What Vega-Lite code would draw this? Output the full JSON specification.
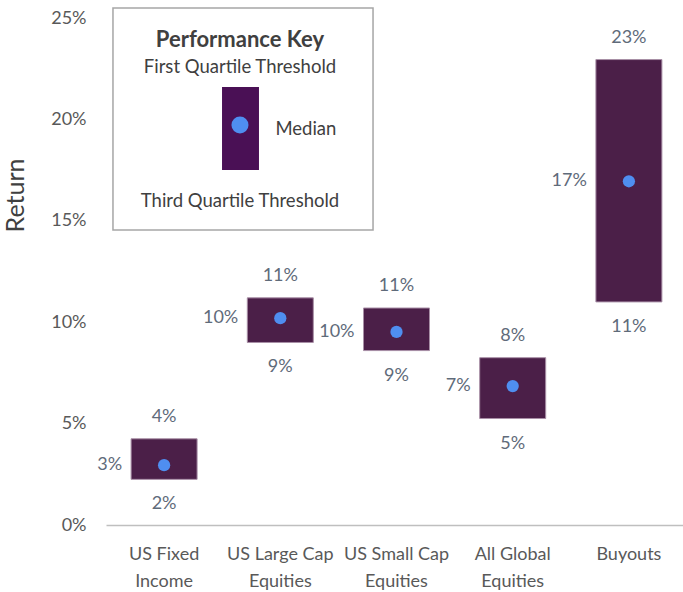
{
  "$schema": "https://vega.github.io/schema/vega-lite/v6.json",
  "autosize": "none",
  "width": 581,
  "height": 507,
  "padding": {"left": 106, "top": 18, "right": 0, "bottom": 67},
  "background": "white",
  "config": {
    "view": {"stroke": null},
    "font": "Lato",
    "text": {"font": "Lato"}
  },
  "datasets": {
    "ranges": [
      {"asset": "US Fixed Income", "first_quartile": 0.0425, "median": 0.0295, "third_quartile": 0.0225},
      {"asset": "US Large Cap Equities", "first_quartile": 0.112, "median": 0.102, "third_quartile": 0.090},
      {"asset": "US Small Cap Equities", "first_quartile": 0.107, "median": 0.0952, "third_quartile": 0.086},
      {"asset": "All Global Equities", "first_quartile": 0.0825, "median": 0.0685, "third_quartile": 0.0525},
      {"asset": "Buyouts", "first_quartile": 0.2295, "median": 0.1695, "third_quartile": 0.110}
    ],
    "key": [
      {"item": "Performance Key"}
    ]
  },
  "resolve": {"scale": {"x": "independent"}, "axis": {"x": "independent"}},
  "layer": [
    {
      "data": {"name": "key"},
      "layer": [
        {
          "mark": {"type": "rect", "fill": "white", "stroke": "#A6A6A6", "strokeWidth": 1.5},
          "encoding": {
            "x": {"datum": 1.2, "type": "quantitative", "scale": {"domain": [0, 100]}, "axis": null},
            "x2": {"datum": 45.96},
            "y": {"datum": 0.2549, "type": "quantitative", "scale": {"domain": [0, 0.25], "nice": false}},
            "y2": {"datum": 0.1455}
          }
        },
        {
          "mark": {"type": "text", "text": "Performance Key", "fontWeight": "bold", "fontSize": 22, "color": "#404040", "baseline": "middle"},
          "encoding": {
            "x": {"datum": 23.06, "type": "quantitative"},
            "y": {"datum": 0.239, "type": "quantitative"}
          }
        },
        {
          "mark": {"type": "text", "text": "First Quartile Threshold", "fontSize": 18.5, "color": "#404040", "baseline": "middle"},
          "encoding": {
            "x": {"datum": 23.06, "type": "quantitative"},
            "y": {"datum": 0.2258, "type": "quantitative"}
          }
        },
        {
          "mark": {"type": "rect", "fill": "#4A1055"},
          "encoding": {
            "x": {"datum": 19.97, "type": "quantitative"},
            "x2": {"datum": 26.33},
            "y": {"datum": 0.216, "type": "quantitative"},
            "y2": {"datum": 0.175}
          }
        },
        {
          "mark": {"type": "circle", "fill": "#4F8EF0", "opacity": 1, "size": 290},
          "encoding": {
            "x": {"datum": 23.06, "type": "quantitative"},
            "y": {"datum": 0.1972, "type": "quantitative"}
          }
        },
        {
          "mark": {"type": "text", "text": "Median", "fontSize": 18.5, "color": "#404040", "baseline": "middle"},
          "encoding": {
            "x": {"datum": 34.4, "type": "quantitative"},
            "y": {"datum": 0.1953, "type": "quantitative"}
          }
        },
        {
          "mark": {"type": "text", "text": "Third Quartile Threshold", "fontSize": 18.5, "color": "#404040", "baseline": "middle"},
          "encoding": {
            "x": {"datum": 23.06, "type": "quantitative"},
            "y": {"datum": 0.1598, "type": "quantitative"}
          }
        }
      ]
    },
    {
      "data": {"name": "ranges"},
      "encoding": {
        "x": {
          "field": "asset",
          "type": "nominal",
          "sort": null,
          "scale": {"paddingInner": 0, "paddingOuter": 0},
          "axis": {
            "orient": "bottom",
            "title": null,
            "labelAngle": 0,
            "labelFontSize": 18,
            "labelColor": "#595959",
            "labelFont": "Lato",
            "labelPadding": 20,
            "labelLineHeight": 27,
            "labelBaseline": "top",
            "ticks": false,
            "domainColor": "#BFBFBF",
            "domainWidth": 1.5,
            "labelExpr": "lastindexof(datum.label, ' ') > 0 ? [substring(datum.label, 0, lastindexof(datum.label, ' ')), substring(datum.label, lastindexof(datum.label, ' ') + 1)] : datum.label"
          }
        }
      },
      "layer": [
        {
          "mark": {"type": "bar", "width": 66, "fill": "#4B1F48", "stroke": "#A88FA6", "strokeWidth": 1},
          "encoding": {
            "y": {
              "field": "first_quartile",
              "type": "quantitative",
              "scale": {"domain": [0, 0.25], "nice": false},
              "axis": {
                "title": "Return",
                "titleFontSize": 25,
                "titleFontWeight": "normal",
                "titleColor": "#404040",
                "titleFont": "Lato",
                "titleX": -78,
                "titleY": 177,
                "titleAngle": -90,
                "titleAlign": "center",
                "titleBaseline": "bottom",
                "format": ".0%",
                "values": [0, 0.05, 0.1, 0.15, 0.2, 0.25],
                "labelFontSize": 18,
                "labelColor": "#595959",
                "labelFont": "Lato",
                "labelPadding": 20,
                "domain": false,
                "ticks": false,
                "grid": false
              }
            },
            "y2": {"field": "third_quartile"}
          }
        },
        {
          "mark": {"type": "circle", "fill": "#4F8EF0", "opacity": 1, "size": 150},
          "encoding": {
            "y": {"field": "median", "type": "quantitative"}
          }
        },
        {
          "mark": {"type": "text", "fontSize": 18, "color": "#5F6B7A", "baseline": "middle", "dy": -22},
          "encoding": {
            "y": {"field": "first_quartile", "type": "quantitative"},
            "text": {"field": "first_quartile", "type": "quantitative", "format": ".0%"}
          }
        },
        {
          "mark": {"type": "text", "fontSize": 18, "color": "#5F6B7A", "baseline": "middle", "dy": 25},
          "encoding": {
            "y": {"field": "third_quartile", "type": "quantitative"},
            "text": {"field": "third_quartile", "type": "quantitative", "format": ".0%"}
          }
        },
        {
          "mark": {"type": "text", "fontSize": 18, "color": "#5F6B7A", "baseline": "middle", "align": "right", "dx": -42},
          "encoding": {
            "y": {"field": "median", "type": "quantitative"},
            "text": {"field": "median", "type": "quantitative", "format": ".0%"}
          }
        }
      ]
    }
  ]
}
